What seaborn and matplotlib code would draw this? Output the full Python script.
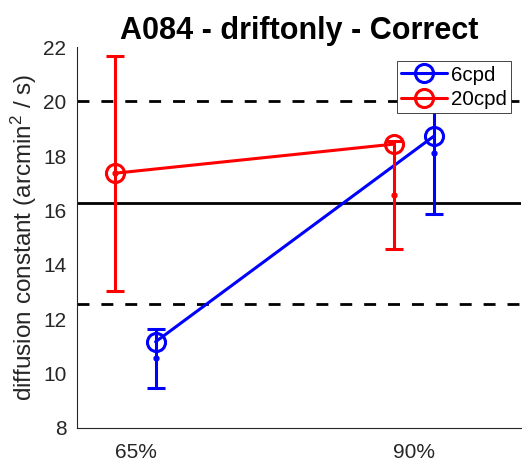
import matplotlib
matplotlib.use("Agg")
import matplotlib.pyplot as plt
import seaborn as sns
import pandas as pd
import numpy as np

# ---- data ----
tick_positions = [65, 90]
tick_labels = ["65%", "90%"]

series_names = ["6cpd", "20cpd"]
series_colors = ["#0000ff", "#ff0000"]

x_6cpd = [66.75, 91.8]
median_6cpd = [11.17, 18.73]
mean_6cpd = [10.56, 18.10]
err_6cpd = [1.08, 2.23]

x_20cpd = [63.1, 88.2]
median_20cpd = [17.37, 18.44]
mean_20cpd = [17.37, 16.56]
err_20cpd = [4.32, 1.99]

ref_solid = 16.28
ref_dashed = [20.03, 12.56]

title = "A084 - driftonly - Correct"
ylabel = "diffusion constant (arcmin$^2$ / s)"

# ---- style ----
sns.set_style("white")
plt.rcParams["font.family"] = ["Liberation Sans", "DejaVu Sans"]
plt.rcParams["mathtext.fontset"] = "custom"
plt.rcParams["mathtext.rm"] = "Liberation Sans"
plt.rcParams["mathtext.it"] = "Liberation Sans:italic"
plt.rcParams["mathtext.bf"] = "Liberation Sans:bold"

fig = plt.figure(figsize=(5.22, 4.62), dpi=100)
ax = fig.add_axes([0.147, 0.0736, 0.852, 0.824])

ax.axhline(ref_solid, color="black", lw=2.0, zorder=1)
for v in ref_dashed:
    ax.axhline(v, color="black", lw=2.0, ls=(0, (4.3, 4.3)), zorder=1)

data = {
    "6cpd": (x_6cpd, median_6cpd, mean_6cpd, err_6cpd),
    "20cpd": (x_20cpd, median_20cpd, mean_20cpd, err_20cpd),
}

for name, col in zip(series_names, series_colors):
    xs, med, mn, er = data[name]
    df = pd.DataFrame({"x": xs, "y": med})
    sns.lineplot(data=df, x="x", y="y", ax=ax, color=col, lw=2.2,
                 marker="o", markersize=13, markerfacecolor="none",
                 markeredgecolor=col, markeredgewidth=2.2, label=name,
                 zorder=3)
    ax.errorbar(xs, mn, yerr=er, fmt=".", color=col, ecolor=col,
                elinewidth=2.2, capsize=6.5, capthick=2.2, markersize=7,
                zorder=3)

ax.set_xlim(59.65, 99.7)
ax.set_ylim(8, 22)
ax.set_yticks(np.arange(8, 23, 2))
ax.set_xticks(tick_positions)
ax.set_xticklabels(tick_labels)
ax.set_xlabel("")
ax.set_ylabel(ylabel, fontsize=17.5, color="#262626", labelpad=3)
ax.set_title(title, fontsize=22, fontweight="bold", pad=6, color="black")

for s in ["top", "right"]:
    ax.spines[s].set_visible(False)
for s in ["left", "bottom"]:
    ax.spines[s].set_color("#262626")
    ax.spines[s].set_linewidth(0.8)
ax.tick_params(direction="in", length=4, width=0.8, colors="#262626",
               labelsize=15, labelcolor="#262626")
ax.tick_params(axis="x", pad=10.5)
ax.tick_params(axis="y", pad=7.5)

leg = ax.legend(loc="upper right", bbox_to_anchor=(0.976, 0.963),
                fontsize=14.8, frameon=True, fancybox=False,
                edgecolor="#262626", framealpha=1, borderpad=0.2,
                handlelength=2.2, handletextpad=0.2, labelspacing=0.28,
                borderaxespad=0.0)
leg.get_frame().set_linewidth(0.6)
for t in leg.get_texts():
    t.set_color("black")

fig.savefig("out.png", dpi=100)
